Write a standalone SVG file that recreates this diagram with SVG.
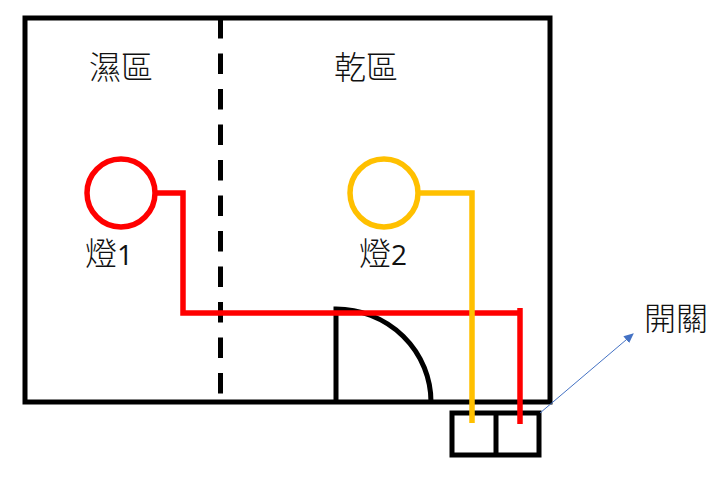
<svg xmlns="http://www.w3.org/2000/svg" width="720" height="479" viewBox="0 0 720 479">
<style>
.k{fill:none;stroke:#000;stroke-width:5}
.r{fill:none;stroke:#f00;stroke-width:5.5}
.y{fill:none;stroke:#ffc000;stroke-width:5.5}
text{font-family:"Noto Sans CJK TC","Noto Sans CJK SC","Liberation Sans",sans-serif;font-size:32px;font-weight:300;fill:#111}
.n{font-family:"Open Sans","Liberation Sans",sans-serif;font-size:28px;font-weight:400}
</style>
<defs><marker id="a" markerWidth="10" markerHeight="9" refX="8" refY="4" orient="auto" markerUnits="userSpaceOnUse" viewBox="0 0 9 8"><path d="M0 0L9 4L0 8z" fill="#4472c4"/></marker></defs>
<rect width="720" height="479" fill="#fff"/>
<g id="room"><rect class="k" x="25" y="18" width="525" height="384"/></g>
<g id="divider"><path class="k" d="M220.500 18V402" stroke-dasharray="20.500 15"/></g>
<g id="door"><path class="k" d="M336 402V309A95 93 0 0 1 431 402"/></g>
<g id="switch"><rect class="k" x="452" y="413" width="87" height="42"/><path class="k" d="M496 413V455"/></g>
<g id="connectors">
<path class="r" d="M155 193H183V313H520"/>
<path class="r" d="M520 308V424"/>
<path class="y" d="M417 193H472V423"/>
<path d="M540 413L633 334" fill="none" stroke="#4472c4" stroke-width="1" marker-end="url(#a)"/>
</g>
<g id="lamp1"><circle class="r" cx="121" cy="193" r="34"/><text x="85" y="265">燈<tspan class="n">1</tspan></text></g>
<g id="lamp2"><circle class="y" cx="384" cy="193" r="34"/><text x="359" y="265">燈<tspan class="n">2</tspan></text></g>
<g id="labels">
<text x="89" y="79">濕區</text>
<text x="334" y="79">乾區</text>
<text x="644" y="330">開關</text>
</g>
</svg>
